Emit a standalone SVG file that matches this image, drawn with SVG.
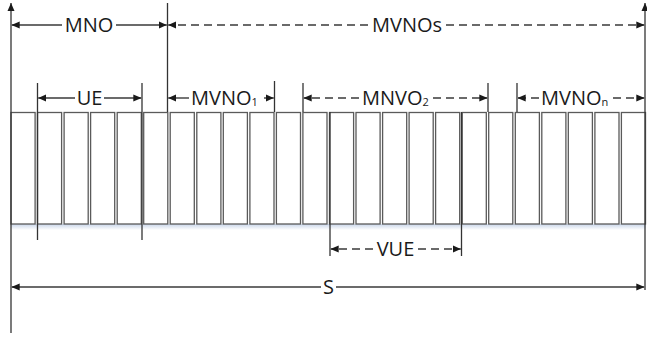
<svg xmlns="http://www.w3.org/2000/svg" width="647" height="341" viewBox="0 0 647 341">
<defs>
<marker id="ah" viewBox="0 0 8 8" refX="8" refY="4" markerWidth="8" markerHeight="8" markerUnits="userSpaceOnUse" orient="auto-start-reverse">
<path d="M0,0.5 L8,4 L0,7.5 z" fill="#1a1a1a"/>
</marker>
<linearGradient id="sh" x1="0" y1="0" x2="0" y2="1">
<stop offset="0" stop-color="#c9d6ea"/>
<stop offset="1" stop-color="#ffffff"/>
</linearGradient>
</defs>
<style>
.box{fill:#ffffff;stroke:#5a5a5a;stroke-width:1.3}
.v{stroke:#333333;stroke-width:1.3;fill:none}
.a{stroke:#3a3a3a;stroke-width:1.4;fill:none}
.d{stroke-dasharray:8 5}
text{font-family:"Open Sans","Liberation Sans",sans-serif;font-size:20px;fill:#1a1a1a}
.sub{font-size:11px}
</style>
<rect x="11" y="224" width="635" height="6" fill="url(#sh)"/>
<g id="slots">
<rect class="box" x="11.0" y="112.5" width="24.1" height="111.5"/>
<rect class="box" x="37.5" y="112.5" width="24.1" height="111.5"/>
<rect class="box" x="64.1" y="112.5" width="24.1" height="111.5"/>
<rect class="box" x="90.6" y="112.5" width="24.1" height="111.5"/>
<rect class="box" x="117.2" y="112.5" width="24.1" height="111.5"/>
<rect class="box" x="143.7" y="112.5" width="24.1" height="111.5"/>
<rect class="box" x="170.2" y="112.5" width="24.1" height="111.5"/>
<rect class="box" x="196.8" y="112.5" width="24.1" height="111.5"/>
<rect class="box" x="223.3" y="112.5" width="24.1" height="111.5"/>
<rect class="box" x="249.9" y="112.5" width="24.1" height="111.5"/>
<rect class="box" x="276.4" y="112.5" width="24.1" height="111.5"/>
<rect class="box" x="302.9" y="112.5" width="24.1" height="111.5"/>
<rect class="box" x="329.5" y="112.5" width="24.1" height="111.5"/>
<rect class="box" x="356.0" y="112.5" width="24.1" height="111.5"/>
<rect class="box" x="382.6" y="112.5" width="24.1" height="111.5"/>
<rect class="box" x="409.1" y="112.5" width="24.1" height="111.5"/>
<rect class="box" x="435.6" y="112.5" width="24.1" height="111.5"/>
<rect class="box" x="462.2" y="112.5" width="24.1" height="111.5"/>
<rect class="box" x="488.7" y="112.5" width="24.1" height="111.5"/>
<rect class="box" x="515.3" y="112.5" width="24.1" height="111.5"/>
<rect class="box" x="541.8" y="112.5" width="24.1" height="111.5"/>
<rect class="box" x="568.3" y="112.5" width="24.1" height="111.5"/>
<rect class="box" x="594.9" y="112.5" width="24.1" height="111.5"/>
<rect class="box" x="621.4" y="112.5" width="24.1" height="111.5"/>
</g>
<g id="connectors">
<line class="v" x1="11" y1="333" x2="11" y2="3" marker-end="url(#ah)"/>
<line class="v" x1="645" y1="290" x2="645" y2="3" marker-end="url(#ah)"/>
<line class="v" x1="167.5" y1="3" x2="167.5" y2="112"/>
<line class="v" x1="37.5" y1="83" x2="37.5" y2="240"/>
<line class="v" x1="142" y1="83" x2="142" y2="240"/>
<line class="v" x1="274.5" y1="81" x2="274.5" y2="112"/>
<line class="v" x1="303" y1="83" x2="303" y2="112"/>
<line class="v" x1="488" y1="83" x2="488" y2="112"/>
<line class="v" x1="517" y1="83" x2="517" y2="112"/>
<line class="v" x1="330" y1="112" x2="330" y2="256"/>
<line class="v" x1="461.5" y1="112" x2="461.5" y2="256"/>
<line class="a" x1="62" y1="25" x2="11.7" y2="25" marker-end="url(#ah)"/>
<line class="a" x1="116" y1="25" x2="166.8" y2="25" marker-end="url(#ah)"/>
<line class="a d" x1="368" y1="25" x2="168.2" y2="25" marker-end="url(#ah)"/>
<line class="a d" x1="446" y1="25" x2="644.3" y2="25" marker-end="url(#ah)"/>
<line class="a" x1="75" y1="98" x2="38.2" y2="98" marker-end="url(#ah)"/>
<line class="a" x1="104" y1="98" x2="141.3" y2="98" marker-end="url(#ah)"/>
<line class="a" x1="189" y1="98" x2="168.2" y2="98" marker-end="url(#ah)"/>
<line class="a" x1="264" y1="98" x2="273.8" y2="98" marker-end="url(#ah)"/>
<line class="a d" x1="359" y1="98" x2="303.7" y2="98" marker-end="url(#ah)"/>
<line class="a d" x1="433" y1="98" x2="487.3" y2="98" marker-end="url(#ah)"/>
<line class="a d" x1="539" y1="98" x2="517.7" y2="98" marker-end="url(#ah)"/>
<line class="a d" x1="613" y1="98" x2="644.3" y2="98" marker-end="url(#ah)"/>
<line class="a d" x1="373" y1="249" x2="330.7" y2="249" marker-end="url(#ah)"/>
<line class="a d" x1="418" y1="249" x2="460.8" y2="249" marker-end="url(#ah)"/>
<line class="a" x1="321" y1="287" x2="11.7" y2="287" marker-end="url(#ah)"/>
<line class="a" x1="336" y1="287" x2="644.3" y2="287" marker-end="url(#ah)"/>
</g>
<g id="label-mno"><text x="89" y="32" text-anchor="middle">MNO</text></g>
<g id="label-mvnos"><text x="407" y="32" text-anchor="middle">MVNOs</text></g>
<g id="label-ue"><text x="89.5" y="105" text-anchor="middle">UE</text></g>
<g id="label-mvno1"><text x="191" y="105">MVNO<tspan class="sub" dy="1">1</tspan></text></g>
<g id="label-mnvo2"><text x="362" y="105">MNVO<tspan class="sub" dy="1">2</tspan></text></g>
<g id="label-mvnon"><text x="541" y="105">MVNO<tspan class="sub" dy="1">n</tspan></text></g>
<g id="label-vue"><text x="395.5" y="256" text-anchor="middle">VUE</text></g>
<g id="label-s"><text x="328.5" y="294" text-anchor="middle">S</text></g>
</svg>
